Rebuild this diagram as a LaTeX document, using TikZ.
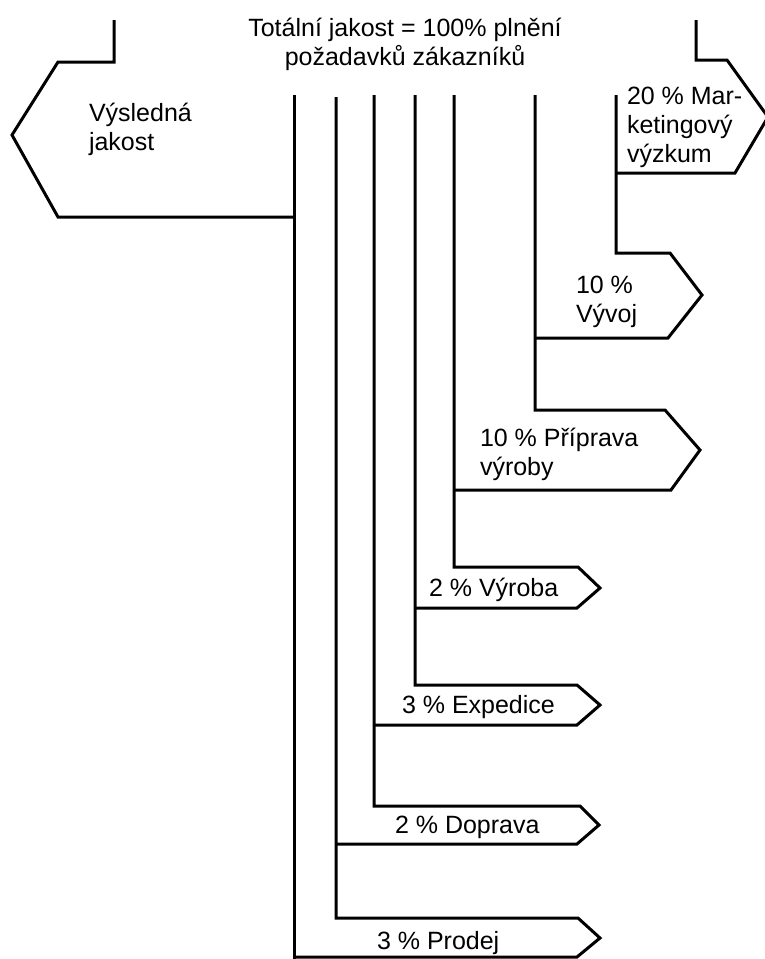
\documentclass[tikz,border=0pt]{standalone}
\usepackage{fontspec}
\setmainfont{Liberation Sans}
\begin{document}
\begin{tikzpicture}[x=1pt,y=-1pt,
  outline/.style={draw=black,line width=3pt,line join=miter},
  lbl/.style={anchor=base west,inner sep=0pt,outer sep=0pt,
    font=\fontsize{25}{29}\selectfont}]
\useasboundingbox (0,0) rectangle (764,959);

% resulting quality: arrow pointing left, closed by the first trunk line
\draw[outline] (114,20) -- (114,62) -- (58,62) -- (12,135) -- (58,217) -- (294,217);
% marketing research: arrow pointing right
\draw[outline] (696,20) -- (696,60) -- (727,60) -- (768,117) -- (735,173) -- (616,173);

% trunk lines, each ending in the arrow of one department
\draw[outline] (616,95) -- (616,253) -- (670,253) -- (702,295) -- (668,338) -- (535,338);
\draw[outline] (535,95) -- (535,410) -- (665,410) -- (700,450) -- (671,490) -- (454,490);
\draw[outline] (454,95) -- (454,567) -- (578,567) -- (600,588) -- (577,608) -- (415,608);
\draw[outline] (415,95) -- (415,685) -- (577,685) -- (600,705) -- (577,725) -- (374,725);
\draw[outline] (374,95) -- (374,806) -- (580,806) -- (599,825) -- (577,844) -- (336,844);
\draw[outline] (336,97) -- (336,918) -- (578,918) -- (600,938) -- (577,957) -- (294,957);
\draw[outline] (294,95) -- (294,959);

% labels
\node[lbl,anchor=base] (title) at (405,36)
  {\begin{tabular}[t]{@{}c@{}}Totální jakost = 100\% plnění\\požadavků zákazníků\end{tabular}};
\node[lbl] (result) at (89,121)
  {\begin{tabular}[t]{@{}l@{}}Výsledná\\jakost\end{tabular}};
\node[lbl] (market) at (627,104)
  {\begin{tabular}[t]{@{}l@{}}20 \% Mar-\\ketingový\\výzkum\end{tabular}};
\node[lbl] (dev) at (576,293)
  {\begin{tabular}[t]{@{}l@{}}10 \%\\Vývoj\end{tabular}};
\node[lbl] (prep) at (480,446)
  {\begin{tabular}[t]{@{}l@{}}10 \% Příprava\\výroby\end{tabular}};
\node[lbl] (prod) at (429,596) {2 \% Výroba};
\node[lbl] (disp) at (402,713) {3 \% Expedice};
\node[lbl] (trans) at (395,833) {2 \% Doprava};
\node[lbl] (sale) at (377,949) {3 \% Prodej};
\end{tikzpicture}
\end{document}
